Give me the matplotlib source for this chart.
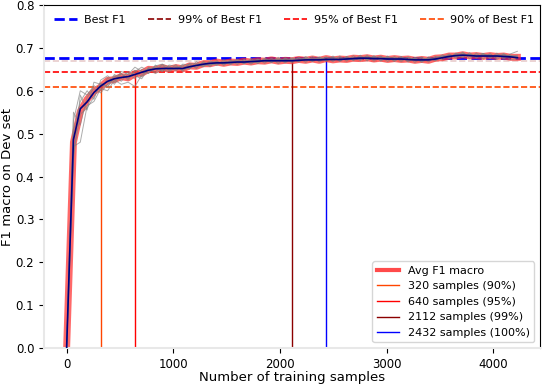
import numpy as np
import matplotlib
matplotlib.use('Agg')
import matplotlib.pyplot as plt
from matplotlib.lines import Line2D

#==數據===
samples = list(range(0, 4225, 64))

best_f1 = 0.677
pct_levels = [0.99, 0.95, 0.90]
pct_colors = ['darkred', 'red', 'orangered']
cut_samples = [320, 640, 2112, 2432]
cut_labels = ['320 samples (90%)', '640 samples (95%)', '2112 samples (99%)', '2432 samples (100%)']
cut_colors = ['orangered', 'red', 'darkred', 'blue']

smooth_f1 = [
    0.0, 0.486, 0.558, 0.574, 0.596, 0.611, 0.622, 0.628, 0.631, 0.633,
    0.638, 0.643, 0.648, 0.651, 0.652, 0.652, 0.652, 0.652, 0.656, 0.659,
    0.662, 0.664, 0.665, 0.665, 0.666, 0.667, 0.667, 0.668, 0.669, 0.670,
    0.670, 0.670, 0.670, 0.670, 0.671, 0.672, 0.672, 0.672, 0.673, 0.673,
    0.673, 0.674, 0.675, 0.676, 0.676, 0.675, 0.675, 0.674, 0.674, 0.674,
    0.673, 0.672, 0.672, 0.672, 0.674, 0.677, 0.680, 0.682, 0.683, 0.682,
    0.681, 0.681, 0.681, 0.681, 0.680, 0.679, 0.677]

avg_f1 = [
    0.0, 0.480, 0.552, 0.580, 0.598, 0.609, 0.624, 0.626, 0.633, 0.630,
    0.640, 0.641, 0.650, 0.649, 0.654, 0.650, 0.654, 0.651, 0.658, 0.657,
    0.663, 0.663, 0.667, 0.664, 0.667, 0.666, 0.669, 0.667, 0.670, 0.669,
    0.672, 0.669, 0.671, 0.670, 0.673, 0.671, 0.674, 0.671, 0.675, 0.672,
    0.674, 0.673, 0.676, 0.675, 0.677, 0.674, 0.676, 0.673, 0.675, 0.673,
    0.674, 0.671, 0.673, 0.671, 0.676, 0.677, 0.681, 0.681, 0.684, 0.681,
    0.682, 0.680, 0.682, 0.680, 0.681, 0.678, 0.678]

run_a = [
    0.0, 0.452, 0.545, 0.560, 0.585, 0.618, 0.610, 0.635, 0.622, 0.640,
    0.628, 0.650, 0.641, 0.660, 0.645, 0.658, 0.646, 0.660, 0.651, 0.668,
    0.657, 0.670, 0.660, 0.672, 0.662, 0.674, 0.663, 0.675, 0.664, 0.676,
    0.666, 0.678, 0.667, 0.677, 0.668, 0.680, 0.669, 0.679, 0.670, 0.681,
    0.668, 0.680, 0.671, 0.683, 0.670, 0.682, 0.669, 0.681, 0.668, 0.680,
    0.667, 0.678, 0.666, 0.679, 0.670, 0.684, 0.675, 0.688, 0.677, 0.689,
    0.676, 0.687, 0.675, 0.688, 0.674, 0.686, 0.692]
run_b = [
    0.0, 0.530, 0.600, 0.590, 0.612, 0.600, 0.630, 0.615, 0.640, 0.625,
    0.648, 0.632, 0.655, 0.643, 0.662, 0.647, 0.661, 0.645, 0.663, 0.652,
    0.667, 0.656, 0.670, 0.659, 0.671, 0.661, 0.673, 0.662, 0.674, 0.664,
    0.676, 0.663, 0.677, 0.665, 0.678, 0.666, 0.680, 0.667, 0.679, 0.668,
    0.681, 0.669, 0.682, 0.670, 0.683, 0.669, 0.681, 0.668, 0.680, 0.668,
    0.679, 0.666, 0.678, 0.667, 0.680, 0.672, 0.686, 0.676, 0.690, 0.675,
    0.688, 0.674, 0.687, 0.673, 0.686, 0.672, 0.675]
run_c = [
    0.0, 0.470, 0.480, 0.565, 0.575, 0.605, 0.600, 0.625, 0.615, 0.620,
    0.610, 0.637, 0.652, 0.640, 0.650, 0.644, 0.655, 0.648, 0.653, 0.660,
    0.656, 0.664, 0.659, 0.667, 0.661, 0.668, 0.663, 0.670, 0.664, 0.672,
    0.666, 0.674, 0.665, 0.675, 0.667, 0.676, 0.668, 0.677, 0.669, 0.678,
    0.670, 0.677, 0.671, 0.679, 0.672, 0.680, 0.671, 0.678, 0.670, 0.677,
    0.669, 0.676, 0.668, 0.675, 0.672, 0.678, 0.679, 0.684, 0.680, 0.685,
    0.679, 0.684, 0.678, 0.683, 0.677, 0.682, 0.680]
run_d = [
    0.0, 0.505, 0.575, 0.600, 0.580, 0.625, 0.635, 0.620, 0.645, 0.638,
    0.655, 0.645, 0.640, 0.658, 0.662, 0.655, 0.650, 0.662, 0.660, 0.654,
    0.668, 0.661, 0.663, 0.668, 0.670, 0.664, 0.672, 0.668, 0.666, 0.674,
    0.671, 0.667, 0.675, 0.672, 0.669, 0.677, 0.674, 0.670, 0.678, 0.675,
    0.671, 0.679, 0.676, 0.672, 0.680, 0.677, 0.673, 0.679, 0.676, 0.671,
    0.678, 0.674, 0.670, 0.677, 0.675, 0.681, 0.684, 0.680, 0.686, 0.683,
    0.679, 0.685, 0.682, 0.678, 0.684, 0.680, 0.683]
run_e = [
    0.0, 0.550, 0.520, 0.585, 0.605, 0.595, 0.615, 0.638, 0.628, 0.645,
    0.635, 0.628, 0.652, 0.655, 0.645, 0.660, 0.657, 0.650, 0.664, 0.662,
    0.658, 0.667, 0.668, 0.662, 0.669, 0.671, 0.665, 0.670, 0.673, 0.667,
    0.672, 0.674, 0.668, 0.673, 0.676, 0.670, 0.675, 0.677, 0.671, 0.676,
    0.678, 0.672, 0.677, 0.679, 0.673, 0.678, 0.680, 0.672, 0.677, 0.679,
    0.671, 0.676, 0.678, 0.670, 0.679, 0.681, 0.678, 0.686, 0.688, 0.681,
    0.685, 0.687, 0.680, 0.684, 0.686, 0.679, 0.681]
run_f = [
    0.0, 0.440, 0.590, 0.555, 0.620, 0.615, 0.608, 0.632, 0.640, 0.628,
    0.645, 0.655, 0.646, 0.652, 0.658, 0.649, 0.653, 0.657, 0.651, 0.663,
    0.661, 0.659, 0.666, 0.663, 0.665, 0.669, 0.668, 0.664, 0.670, 0.671,
    0.667, 0.672, 0.673, 0.668, 0.674, 0.675, 0.670, 0.676, 0.677, 0.671,
    0.675, 0.676, 0.672, 0.678, 0.679, 0.673, 0.677, 0.678, 0.672, 0.676,
    0.677, 0.670, 0.674, 0.675, 0.671, 0.677, 0.682, 0.679, 0.683, 0.685,
    0.680, 0.683, 0.684, 0.679, 0.682, 0.683, 0.676]
runs = [run_a, run_b, run_c, run_d, run_e, run_f]

#==畫圖===
plt.rcParams['font.family'] = 'DejaVu Sans'
fig = plt.figure(figsize=(5.42, 3.84), dpi=100)
ax = fig.add_axes([44/542, 36/384, 496/542, 343/384])

ax.plot(samples, avg_f1, color='#ff2a2a', lw=5, alpha=0.7, label='Avg F1 macro', zorder=2)
for r in runs:
    ax.plot(samples, r, color='gray', lw=0.7, alpha=0.65, zorder=3)
ax.plot(samples, smooth_f1, color='navy', lw=1.2, zorder=4)

# 水平線
ax.axhline(best_f1, color='blue', ls='--', lw=2, zorder=1)
ax.axhline(best_f1 * pct_levels[0], color='darkred', ls='--', lw=1.2, alpha=0.2, zorder=1)
ax.axhline(best_f1 * pct_levels[1], color='red', ls='--', lw=1.2, zorder=1)
ax.axhline(best_f1 * pct_levels[2], color='orangered', ls='--', lw=1.2, zorder=1)

# 垂直線
vl_handles = []
for s, lab, c in zip(cut_samples, cut_labels, cut_colors):
    top = smooth_f1[samples.index(s)]
    ax.vlines(s, 0, top, color=c, lw=1, zorder=1)
    vl_handles.append(Line2D([], [], color=c, lw=1, label=lab))

ax.set_xlim(-212, 4436)
ax.set_ylim(0, 0.8)
ax.set_xticks([0, 1000, 2000, 3000, 4000])
ax.set_xlabel('Number of training samples', fontsize=9.5, labelpad=0)
ax.set_ylabel('F1 macro on Dev set', fontsize=9.5, labelpad=1)
ax.tick_params(labelsize=8.5, length=3.5)

for sp in ['left', 'bottom']:
    ax.spines[sp].set_color('#e8e8e8')
    ax.spines[sp].set_linewidth(1.5)

top_handles = [
    Line2D([], [], color='blue', ls='--', lw=2, label='Best F1'),
    Line2D([], [], color='darkred', ls='--', lw=1.2, label='99% of Best F1'),
    Line2D([], [], color='red', ls='--', lw=1.2, label='95% of Best F1'),
    Line2D([], [], color='orangered', ls='--', lw=1.2, label='90% of Best F1'),
]
leg1 = ax.legend(handles=top_handles, loc='upper left', ncol=4, frameon=False,
                 fontsize=8, bbox_to_anchor=(0.0, 1.0), columnspacing=2.0,
                 handlelength=2.1, handletextpad=0.6)
ax.add_artist(leg1)

avg_handle = Line2D([], [], color='#ff2a2a', lw=3, alpha=0.85, label='Avg F1 macro')
ax.legend(handles=[avg_handle] + vl_handles, loc='lower right', fontsize=8)

fig.savefig('out.png', dpi=100)
